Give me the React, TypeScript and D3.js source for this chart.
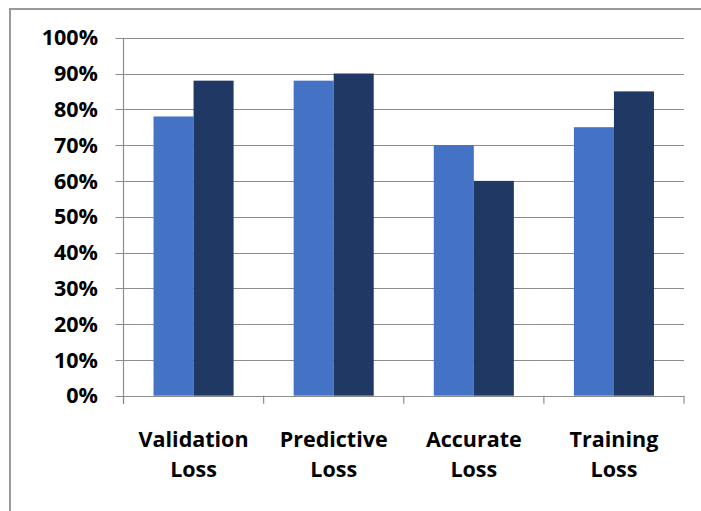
import * as d3 from 'd3'

const categories = [['Validation', 'Loss'], ['Predictive', 'Loss'], ['Accurate', 'Loss'], ['Training', 'Loss']]
const seriesA = [0.78, 0.88, 0.70, 0.75]
const seriesB = [0.88, 0.90, 0.60, 0.85]
const yTicks = [0, 0.1, 0.2, 0.3, 0.4, 0.5, 0.6, 0.7, 0.8, 0.9, 1.0]

const W = 701
const H = 511
const LIGHT = '#4472C4'
const DARK = '#1F3864'
const GRID = '#8C8C8C'
const FONT = '"Open Sans", sans-serif'

export default function App() {
  const left = 123.5
  const right = 684
  const top = 37.7
  const bottom = 395.7

  const x = d3.scaleBand<number>().domain(d3.range(categories.length)).range([left, right])
  const inner = d3.scaleBand<number>().domain([0, 1]).range([0, x.bandwidth()]).paddingOuter(0.75)
  const y = d3.scaleLinear().domain([0, 1]).range([bottom, top])
  const fmt = d3.format('.0%')
  const series = [seriesA, seriesB]
  const colors = [LIGHT, DARK]

  return (
    <div style={{ position: 'absolute', left: 0, top: 0 }}>
      <svg width={W} height={H} style={{ display: 'block' }}>
        <rect x={0} y={0} width={W} height={H} fill="#fff" />
        {/* outer frame: only top and left edges visible */}
        <path d={`M10,${H} V9 H${W}`} fill="none" stroke="#999" strokeWidth={2} />

        {yTicks.map((t) => (
          <g key={t}>
            <line x1={left - 8} x2={right} y1={Math.round(y(t)) + 0.5} y2={Math.round(y(t)) + 0.5} stroke={GRID} strokeWidth={1.2} />
            <text x={98} y={y(t)} dy="0.36em" textAnchor="end" fontFamily={FONT} fontWeight="bold" fontSize={21.5} fill="#000">
              {fmt(t)}
            </text>
          </g>
        ))}

        <line x1={left} x2={left} y1={top} y2={bottom + 8} stroke={GRID} strokeWidth={1.2} />
        {d3.range(categories.length + 1).map((i) => {
          const xx = i < categories.length ? x(i)! : right
          return <line key={i} x1={xx} x2={xx} y1={bottom} y2={bottom + 8} stroke={GRID} strokeWidth={1.2} />
        })}

        {series.map((s, si) =>
          s.map((v, i) => (
            <rect key={`${si}-${i}`} x={x(i)! + inner(si)!} y={y(v)} width={inner.bandwidth()} height={bottom - y(v)} fill={colors[si]} />
          ))
        )}

        {categories.map((lines, i) => (
          <text key={i} textAnchor="middle" fontFamily={FONT} fontWeight="bold" fontSize={21.5} fill="#000">
            {lines.map((l, li) => (
              <tspan key={li} x={x(i)! + x.bandwidth() / 2} y={446.7 + li * 30}>{l}</tspan>
            ))}
          </text>
        ))}
      </svg>
    </div>
  )
}
